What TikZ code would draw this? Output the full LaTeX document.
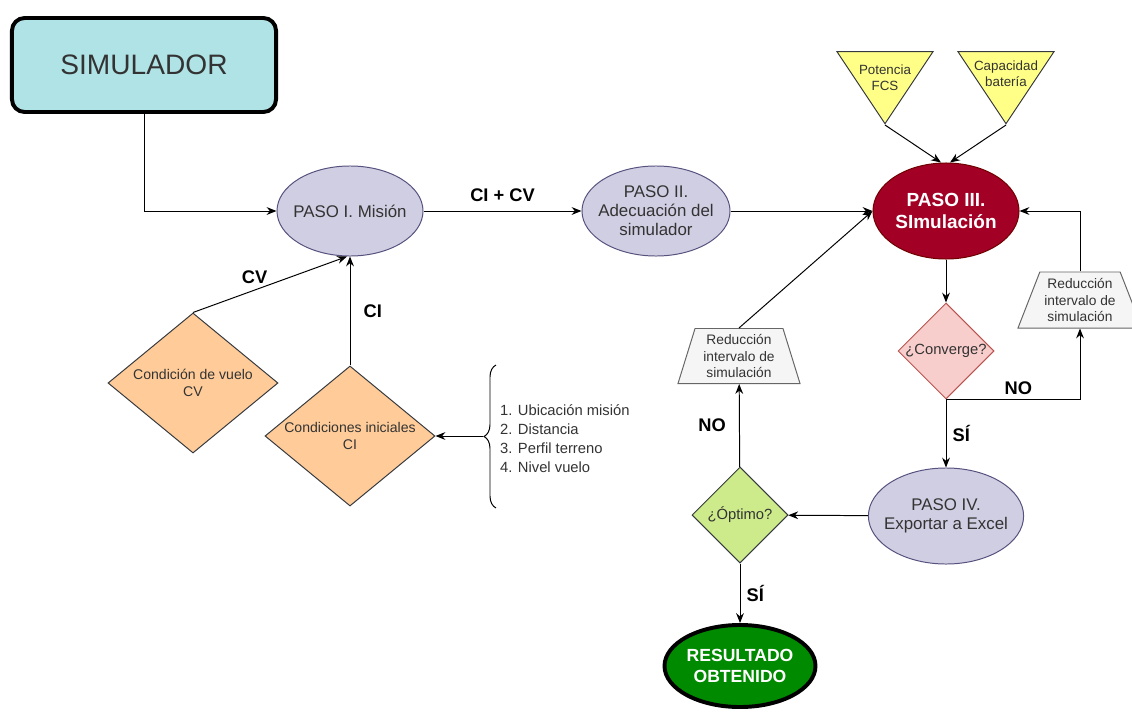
\documentclass[tikz,border=0pt]{standalone}
\usepackage{fontspec}
\setmainfont{Liberation Sans}
\usepackage{xcolor}
\usepackage{tikz}
\usetikzlibrary{arrows.meta,positioning,shapes.geometric,decorations.pathreplacing,calc}

\definecolor{simfill}{HTML}{B0E3E6}
\definecolor{pasofill}{HTML}{D0CEE2}
\definecolor{pasoline}{HTML}{56517E}
\definecolor{simred}{HTML}{A20025}
\definecolor{simredline}{HTML}{6F0000}
\definecolor{entfill}{HTML}{FFFF88}
\definecolor{darkline}{HTML}{36393D}
\definecolor{condfill}{HTML}{FFCC99}
\definecolor{convfill}{HTML}{F8CECC}
\definecolor{convline}{HTML}{B85450}
\definecolor{optfill}{HTML}{CDEB8B}
\definecolor{redfill}{HTML}{F5F5F5}
\definecolor{redline}{HTML}{666666}
\definecolor{okgreen}{HTML}{008A00}
\definecolor{txt}{HTML}{333333}

\begin{document}
\begin{tikzpicture}[x=0.025cm,y=-0.025cm,>={Stealth[length=7pt,width=5.5pt]},line width=0.7pt]
  \tikzstyle{paso}=[ellipse,draw=pasoline,fill=pasofill,text=txt,align=center,inner sep=0pt,inner xsep=-5pt,minimum width=3.65cm,minimum height=2.25cm,font=\fontsize{12}{13.5}\selectfont]
  \tikzstyle{cond}=[diamond,draw=darkline,fill=condfill,text=txt,align=center,inner sep=0pt,shape aspect=1.2,minimum width=4.25cm,minimum height=3.5cm,font=\fontsize{10}{12.5}\selectfont]
  \tikzstyle{pregunta}=[diamond,draw=darkline,text=txt,align=center,inner sep=0pt,minimum width=2.4cm,minimum height=2.4cm,font=\fontsize{10.5}{12.5}\selectfont]
  \tikzstyle{entrada}=[isosceles triangle,isosceles triangle stretches,shape border rotate=-90,draw=darkline,fill=entfill,inner sep=0pt,minimum width=2.4cm,minimum height=1.8cm]
  \tikzstyle{entradatxt}=[text=txt,align=center,inner sep=0pt,font=\fontsize{9.5}{11.5}\selectfont]
  \tikzstyle{reduc}=[trapezium,trapezium stretches body,draw=redline,fill=redfill,text=txt,align=center,inner sep=1pt,minimum width=3.05cm,minimum height=1.4cm,font=\fontsize{9.8}{12}\selectfont]
  \tikzstyle{etiq}=[font=\bfseries\fontsize{13}{15}\selectfont]
  \useasboundingbox (0,0) rectangle (1132,716);

  % entrada y mision
  \node[draw=black,line width=2.8pt,fill=simfill,rounded corners=9pt,minimum width=6.6cm,minimum height=2.35cm,text=txt,font=\fontsize{20}{24}\selectfont] (sim) at (144,65) {SIMULADOR};
  \node[paso] (p1) at (350,211) {PASO I. Misión};
  \node[paso,minimum width=3.7cm] (p2) at (656,211) {PASO II.\\Adecuación del\\simulador};
  \node[paso,fill=simred,draw=simredline,text=white,minimum height=2.4cm,font=\bfseries\fontsize{13.5}{16}\selectfont] (p3) at (946,211) {PASO III.\\SImulación};
  \node[cond] (cv) at (193,383) {Condición de vuelo\\CV};
  \node[cond] (ci) at (350,436) {Condiciones iniciales\\CI};
  \node[align=left,text=txt,font=\fontsize{10.5}{13.5}\selectfont,anchor=west] (lista) at (495,439) {1. Ubicación misión\\2. Distancia\\3. Perfil terreno\\4. Nivel vuelo};
  \coordinate (llave) at (483,436);

  % parametros de la simulacion
  \node[entrada,anchor=apex] (fcs) at (885,125) {};
  \node[entrada,anchor=apex] (bat) at (1006,125) {};
  \node[entradatxt] (fcsTxt) at (885,78) {Potencia\\FCS};
  \node[entradatxt] (batTxt) at (1006,74) {Capacidad\\batería};

  % bucles de convergencia
  \node[pregunta,fill=convfill,draw=convline] (conv) at (946,351) {¿Converge?};
  \node[reduc,trapezium left angle=65,trapezium right angle=65,minimum width=3.1cm] (redR) at (1080,300) {Reducción\\intervalo de\\simulación};
  \node[paso,minimum height=2.4cm] (p4) at (946,516) {PASO IV.\\Exportar a Excel};
  \node[pregunta,fill=optfill] (opt) at (740,515) {¿Óptimo?};
  \node[reduc,trapezium left angle=70,trapezium right angle=70,minimum height=1.375cm] (redL) at (739,356) {Reducción\\intervalo de\\simulación};
  \node[ellipse,draw=black,line width=2.8pt,fill=okgreen,text=white,align=center,inner sep=0pt,minimum width=3.55cm,minimum height=2.05cm,font=\bfseries\fontsize{12.5}{15}\selectfont] (res) at (740,666) {RESULTADO\\OBTENIDO};

  % conectores
  \draw[->] (sim.south) |- (p1.west);
  \draw[->] (p1) -- node[etiq,above=3pt] {CI + CV} (p2);
  \draw[->] (cv.north) -- node[etiq,above=1pt,pos=0.4] {CV} ($(p1.south)+(-3,0)$);
  \draw[->] (ci.north) -- node[etiq,right=6pt] {CI} (p1.south);
  \draw[decorate,decoration={brace,amplitude=0.3cm}] (496,508) -- (496,365);
  \draw[->] (llave) -- (ci.east);
  \draw[->] (fcs.apex) -- ($(p3.north)+(-5,0)$);
  \draw[->] (bat.apex) -- ($(p3.north)+(4,0)$);
  \foreach \a/\b in {p2/p3,p3/conv,p4/opt}
    \draw[->] (\a) -- (\b);
  \draw[->] (conv.south) -| node[etiq,above,pos=0.27] {NO} (redR.south);
  \draw[->] (redR.north) |- (p3.east);
  \draw[->] (conv) -- node[etiq,right=1pt] {SÍ} (p4);
  \draw[->] (opt) -- node[etiq,left=6pt] {NO} (redL);
  \draw[->] (redL.north) -- (p3.west);
  \draw[->] (opt) -- node[etiq,right=1pt] {SÍ} (res);
\end{tikzpicture}
\end{document}
